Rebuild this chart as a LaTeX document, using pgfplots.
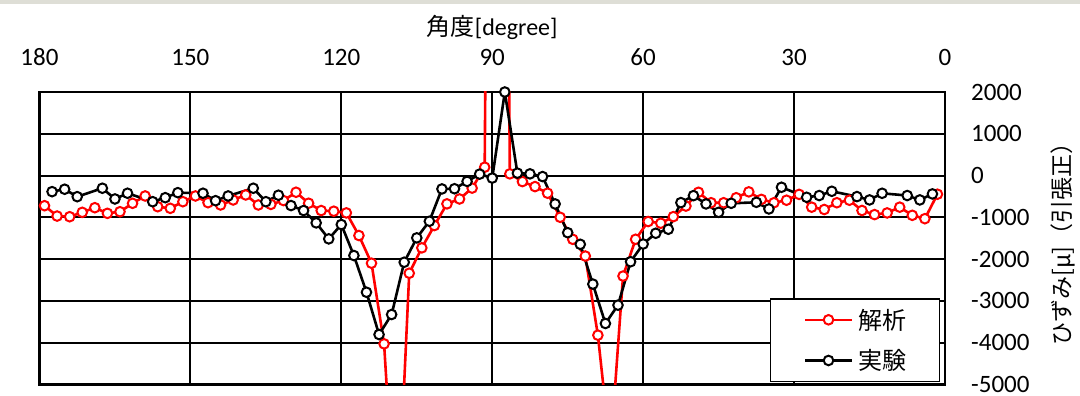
\documentclass[border=0pt]{standalone}
\usepackage{fontspec}
\setmainfont{Carlito}
\newfontfamily\jp{Noto Sans CJK JP}
\usepackage{pgfplots}
\pgfplotsset{compat=1.18}
\definecolor{red1}{RGB}{255,0,0}
\definecolor{topgray}{RGB}{222,222,214}
\begin{document}
\begin{tikzpicture}
\begin{axis}[
  name=ax, at={(0,0)}, anchor=south west,
  scale only axis, width=905.5pt, height=292.5pt,
  x dir=reverse, xmin=0, xmax=180, ymin=-5000, ymax=2000,
  xtick={0,30,60,90,120,150,180}, xticklabels={0,30,60,90,120,150,180},
  ytick={-5000,-4000,-3000,-2000,-1000,0,1000,2000},
  yticklabels={-5000,-4000,-3000,-2000,-1000,0,1000,2000},
  xticklabel pos=right, yticklabel pos=right,
  major tick length=0pt,
  grid=major, major grid style={black, line width=2pt},
  axis line style={black, line width=2.2pt},
  tick label style={font=\fontsize{25}{30}\selectfont},
  xticklabel style={anchor=base, inner sep=0pt, yshift=26pt},
  yticklabel style={anchor=west, inner sep=0pt, xshift=26pt},
  xlabel={{\jp 角度}[degree]},
  xlabel style={at={(axis description cs:0.5,1.22)}, anchor=center, font=\fontsize{24}{28}\selectfont},
  ylabel={\jp ひずみ[μ]（引張正）},
  ylabel style={at={(axis description cs:1.1303,0.5)}, anchor=center, font=\fontsize{23}{28}\selectfont},
  legend style={at={(rel axis cs:0.9945,0.0085)}, anchor=south east, draw=black, line width=1.4pt,
    fill=white, inner xsep=33pt, inner ysep=10pt, row sep=19pt, column sep=5pt,
    font=\fontsize{24}{28}\selectfont\jp, nodes={inner sep=0pt}},
  legend cell align=left,
  legend image code/.code={\draw[mark repeat=2,mark phase=2,#1] plot coordinates {(0pt,0pt) (23.5pt,0pt) (47pt,0pt)};},
]
\addplot[red1, line width=2.6pt, mark=*, mark size=4.8pt, mark options={fill=white, draw=red1, line width=2pt}] table {
179 -721
176.5 -969
174 -985
171.5 -880
169 -769
166.5 -904
164 -865
161.5 -664
159 -488
156.5 -745
154 -784
151.5 -625
149 -488
146.5 -649
144 -704
141.5 -584
139 -464
136.5 -704
134 -690
131.5 -598
129 -399
126.5 -662
124 -837
121.5 -853
119 -893
116.5 -1435
114 -2097
111.5 -4027
109 -8900
106.5 -2337
104 -1730
101.5 -1196
99 -677
96.5 -560
94 -300
91.5 200
89 40000
86.5 41
84 -144
81.5 -264
79 -422
76.5 -998
74 -1525
71.5 -1926
69 -3820
66.5 -6600
64 -2405
61.5 -1525
59 -1100
56.5 -1140
54 -983
51.5 -730
49 -400
46.5 -650
44 -650
41.5 -530
39 -390
36.5 -570
34 -650
31.5 -590
29 -450
26.5 -756
24 -812
21.5 -650
19 -590
16.5 -836
14 -934
11.5 -894
9 -756
6.5 -951
4 -1032
1.5 -446
};
\addlegendentry{解析}
\addplot[black, line width=2.6pt, mark=*, mark size=4.8pt, mark options={fill=white, draw=black, line width=2pt}] table {
177.5 -385
175 -327
172.5 -505
167.5 -303
165 -560
162.5 -423
157.5 -625
155 -529
152.5 -409
147.5 -423
145 -601
142.5 -488
137.5 -303
135 -625
132.5 -470
130 -718
127.5 -837
125 -1132
122.5 -1515
120 -1172
117.5 -1914
115 -2792
112.5 -3804
110 -3325
107.5 -2074
105 -1491
102.5 -1093
100 -320
97.5 -315
95 -140
92.5 35
90 -60
87.5 2000
85 58
82.5 41
80 -24
77.5 -679
75 -1367
72.5 -1645
70 -2597
67.5 -3540
65 -3101
62.5 -2062
60 -1638
57.5 -1381
55 -1285
52.5 -647
50 -480
47.5 -679
45 -880
42.5 -664
37.5 -640
35 -799
32.5 -280
27.5 -520
25 -478
22.5 -376
17.5 -503
15 -583
12.5 -424
7.5 -478
5 -583
2.5 -439
};
\addlegendentry{実験}
\end{axis}
\fill[topgray] (-39.5pt,380pt) rectangle (1040.5pt,384.5pt);
\pgfresetboundingbox
\path[use as bounding box] (-39.5pt,-11.5pt) rectangle (1040.5pt,384.5pt);
\end{tikzpicture}
\end{document}
